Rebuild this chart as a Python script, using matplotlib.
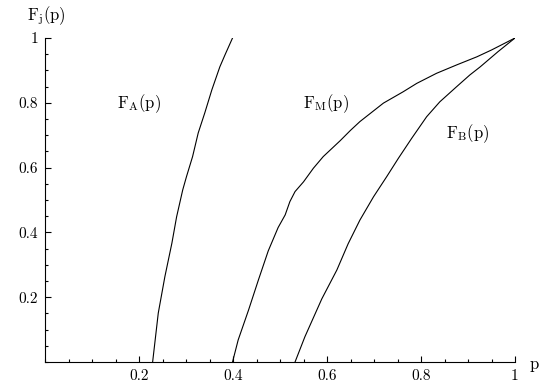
import numpy as np
import matplotlib
matplotlib.use("Agg")
import matplotlib.pyplot as plt
from matplotlib.ticker import MultipleLocator, FixedLocator

plt.rcParams['mathtext.fontset'] = 'cm'
plt.rcParams['font.family'] = 'serif'
plt.rcParams['font.serif'] = ['cmr10']
plt.rcParams['axes.formatter.use_mathtext'] = True

# curves (p, F)
pA = [0.229, 0.241, 0.255, 0.270, 0.280, 0.293, 0.301, 0.314, 0.326, 0.340, 0.355, 0.372, 0.383, 0.399]
fA = [0.0, 0.151, 0.263, 0.367, 0.448, 0.531, 0.572, 0.634, 0.707, 0.769, 0.840, 0.911, 0.948, 1.0]

pM = [0.399, 0.411, 0.433, 0.454, 0.475, 0.496, 0.511, 0.521, 0.532, 0.550, 0.571, 0.592,
      0.628, 0.650, 0.670, 0.720, 0.762, 0.791, 0.833, 0.876, 0.919, 0.950, 1.0]
fM = [0.0, 0.068, 0.160, 0.253, 0.343, 0.415, 0.454, 0.495, 0.526, 0.556, 0.598, 0.634,
      0.683, 0.715, 0.742, 0.799, 0.834, 0.860, 0.891, 0.917, 0.942, 0.963, 1.0]

pB = [0.532, 0.553, 0.589, 0.621, 0.645, 0.670, 0.699, 0.727, 0.752, 0.780, 0.812, 0.840,
      0.876, 0.904, 0.926, 0.964, 1.0]
fB = [0.0, 0.078, 0.195, 0.284, 0.365, 0.438, 0.510, 0.572, 0.629, 0.690, 0.757, 0.803,
      0.850, 0.886, 0.911, 0.958, 1.0]

xticks = [0.2, 0.4, 0.6, 0.8, 1.0]
xticklabels = ['0.2', '0.4', '0.6', '0.8', '1']
yticks = [0.2, 0.4, 0.6, 0.8, 1.0]
yticklabels = ['0.2', '0.4', '0.6', '0.8', '1']

fig = plt.figure(figsize=(5.54, 3.92), dpi=100)
ax = fig.add_axes([45/554, 30/392, 470/554, 324/392])

for p, f in [(pA, fA), (pM, fM), (pB, fB)]:
    ax.plot(p, f, color='black', lw=0.8)

ax.set_xlim(0, 1)
ax.set_ylim(0, 1)
ax.spines['top'].set_visible(False)
ax.spines['right'].set_visible(False)
for s in ['left', 'bottom']:
    ax.spines[s].set_linewidth(0.8)

ax.xaxis.set_major_locator(FixedLocator(xticks))
ax.set_xticklabels(xticklabels)
ax.yaxis.set_major_locator(FixedLocator(yticks))
ax.set_yticklabels(yticklabels)
ax.xaxis.set_minor_locator(MultipleLocator(0.05))
ax.yaxis.set_minor_locator(MultipleLocator(0.05))
ax.tick_params(which='major', direction='in', length=4, width=0.8, labelsize=11, pad=5)
ax.tick_params(which='minor', direction='in', length=2.5, width=0.8)

ax.text(0.153, 0.796, r'$\mathrm{F}_\mathrm{A}\mathrm{(p)}$', fontsize=12, va='center', ha='left')
ax.text(0.549, 0.796, r'$\mathrm{F}_\mathrm{M}\mathrm{(p)}$', fontsize=12, va='center', ha='left')
ax.text(0.853, 0.704, r'$\mathrm{F}_\mathrm{B}\mathrm{(p)}$', fontsize=12, va='center', ha='left')

fig.text(27/554, 1 - 16/392, r'$\mathrm{F}_\mathrm{j}\mathrm{(p)}$', fontsize=12, va='center', ha='left')
fig.text(529/554, 1 - 366/392, r'$\mathrm{p}$', fontsize=12, va='center', ha='left')

fig.savefig('out.png', dpi=100)
